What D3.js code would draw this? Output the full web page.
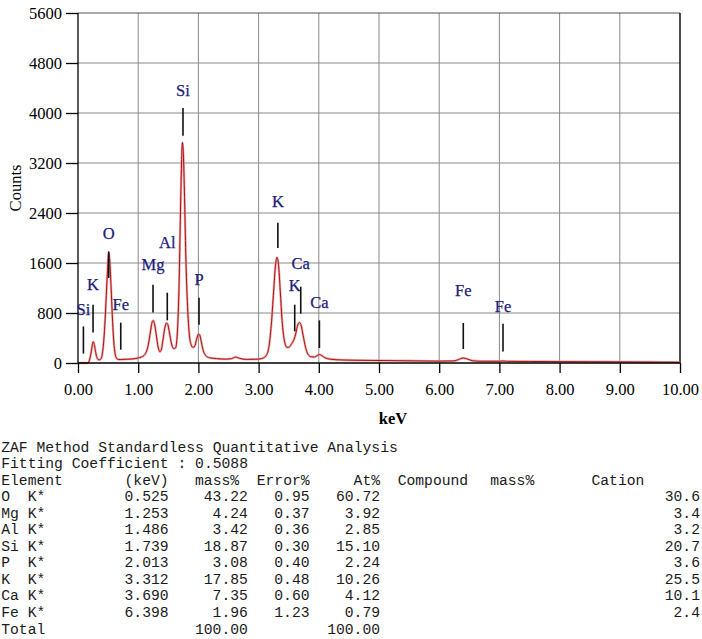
<!DOCTYPE html>
<html>
<head>
<meta charset="utf-8">
<script src="https://cdn.jsdelivr.net/npm/d3@7"></script>
<style>
  body { margin: 0; background: #fff; }
  svg { display: block; }
  .tick text { font-family: "Liberation Serif", "Times New Roman", serif; font-size: 16.5px; fill: #000; }
  .tbl { font-family: "Liberation Mono", "Courier New", monospace; font-size: 14.7px; fill: #1a1a1a; white-space: pre; }
</style>
</head>
<body>
<svg id="chart" width="702" height="639"></svg>
<script>
// spectrum: [keV, counts]
var spectrum = [
  [0.00, 0], [0.16, 0], [0.18, 20], [0.20, 80], [0.22, 180], [0.24, 300], [0.25, 340],
  [0.27, 300], [0.29, 190], [0.31, 100], [0.33, 60], [0.36, 50], [0.38, 65], [0.40, 120],
  [0.42, 270], [0.44, 520], [0.46, 880], [0.48, 1280], [0.50, 1650], [0.51, 1760],
  [0.53, 1600], [0.55, 1200], [0.57, 760], [0.59, 400], [0.61, 190], [0.63, 95],
  [0.66, 60], [0.70, 55], [0.80, 60], [0.90, 65], [1.00, 80], [1.05, 95], [1.10, 125],
  [1.14, 190], [1.17, 300], [1.20, 480], [1.23, 650], [1.25, 680], [1.27, 630],
  [1.30, 450], [1.33, 260], [1.36, 180], [1.38, 200], [1.41, 360], [1.44, 550],
  [1.47, 640], [1.49, 620], [1.52, 480], [1.55, 320], [1.59, 230], [1.62, 240],
  [1.65, 480], [1.68, 1300], [1.70, 2300], [1.72, 3200], [1.735, 3530], [1.75, 3350],
  [1.77, 2650], [1.79, 1750], [1.82, 900], [1.85, 450], [1.88, 290], [1.91, 250],
  [1.94, 270], [1.97, 380], [2.00, 460], [2.02, 450], [2.05, 330], [2.08, 200],
  [2.12, 120], [2.18, 85], [2.30, 70], [2.45, 62], [2.55, 70], [2.62, 95], [2.68, 75],
  [2.80, 58], [2.95, 60], [3.05, 70], [3.12, 110], [3.17, 250], [3.21, 600],
  [3.25, 1150], [3.28, 1560], [3.305, 1690], [3.33, 1580], [3.36, 1150], [3.39, 680],
  [3.43, 350], [3.47, 250], [3.51, 255], [3.55, 310], [3.59, 380], [3.62, 480],
  [3.65, 610], [3.68, 650], [3.71, 590], [3.74, 440], [3.78, 250], [3.82, 140],
  [3.87, 100], [3.93, 95], [3.97, 118], [4.01, 135], [4.05, 118], [4.10, 85],
  [4.20, 60], [4.40, 48], [4.60, 44], [5.00, 40], [5.50, 35], [6.00, 30], [6.25, 34],
  [6.32, 55], [6.40, 80], [6.48, 60], [6.56, 35], [6.70, 28], [7.00, 28], [7.06, 32],
  [7.12, 27], [7.50, 25], [8.00, 22], [8.50, 20], [9.00, 18], [9.50, 15], [10.00, 12]
];

// peak markers: element, keV, line top / bottom and label baseline in counts
var markerNames  = ["Si", "K", "O", "Fe", "Mg", "Al", "Si", "P", "K", "K", "Ca", "Ca", "Fe", "Fe"];
var markerKeV    = [0.09, 0.25, 0.51, 0.71, 1.246, 1.483, 1.744, 2.01, 3.32, 3.60, 3.70, 4.01, 6.40, 7.06];
var markerTop    = [585, 933, 1786, 645, 1253, 1125, 4080, 1045, 2245, 933, 1221, 682, 640, 629];
var markerBottom = [150, 490, 1360, 213, 810, 682, 3637, 613, 1840, 506, 789, 240, 224, 186];
var markerLabel  = [773, 1173, 1984, 853, 1482, 1840, 4266, 1253, 2496, 1147, 1504, 880, 1066, 816];

var xTicks = [0, 1, 2, 3, 4, 5, 6, 7, 8, 9, 10];
var yTicks = [0, 800, 1600, 2400, 3200, 4000, 4800, 5600];

// quantitative table
var tableTitle = "ZAF Method Standardless Quantitative Analysis";
var tableFit = "Fitting Coefficient : 0.5088";
var elements = ["O  K*", "Mg K*", "Al K*", "Si K*", "P  K*", "K  K*", "Ca K*", "Fe K*"];
var energies = ["0.525", "1.253", "1.486", "1.739", "2.013", "3.312", "3.690", "6.398"];
var massPct  = ["43.22", "4.24", "3.42", "18.87", "3.08", "17.85", "7.35", "1.96"];
var errorPct = ["0.95", "0.37", "0.36", "0.30", "0.40", "0.48", "0.60", "1.23"];
var atPct    = ["60.72", "3.92", "2.85", "15.10", "2.24", "10.26", "4.12", "0.79"];
var cation   = ["30.6", "3.4", "3.2", "20.7", "3.6", "25.5", "10.1", "2.4"];
var totals   = ["100.00", "100.00"];

var svg = d3.select("#chart");

var x = d3.scaleLinear().domain([0, 10]).range([78, 680]);
var y = d3.scaleLinear().domain([0, 5600]).range([363, 13]);

// grid
svg.append("g").selectAll("line").data(xTicks.slice(1, -1)).enter().append("line")
  .attr("x1", function(d) { return x(d); }).attr("x2", function(d) { return x(d); })
  .attr("y1", y(0)).attr("y2", y(5600))
  .attr("stroke", "#8a8a8a").attr("stroke-width", 1);
svg.append("g").selectAll("line").data(yTicks.slice(1)).enter().append("line")
  .attr("x1", x(0)).attr("x2", x(10))
  .attr("y1", function(d) { return y(d); }).attr("y2", function(d) { return y(d); })
  .attr("stroke", function(d) { return d === 5600 ? "#555" : "#8a8a8a"; })
  .attr("stroke-width", 1);
svg.append("line").attr("x1", x(10)).attr("x2", x(10)).attr("y1", y(0)).attr("y2", y(5600))
  .attr("stroke", "#111").attr("stroke-width", 1.5);

// spectrum
var line = d3.line()
  .x(function(d) { return x(d[0]); })
  .y(function(d) { return y(d[1]); })
  .curve(d3.curveMonotoneX);

svg.append("path").datum(spectrum).attr("d", line)
  .attr("fill", "none").attr("stroke", "#e89090").attr("stroke-width", 2.4).attr("opacity", 0.75);
svg.append("path").datum(spectrum).attr("d", line)
  .attr("fill", "none").attr("stroke", "#a81010").attr("stroke-width", 1);

// axes
var yAxis = d3.axisLeft(y).tickValues(yTicks).tickSize(12).tickPadding(4).tickFormat(d3.format("d"));
var gy = svg.append("g").attr("transform", "translate(" + x(0) + ",0)").call(yAxis);
var xAxis = d3.axisBottom(x).tickValues(xTicks).tickSize(10).tickPadding(10).tickFormat(d3.format(".2f"));
var gx = svg.append("g").attr("transform", "translate(0," + y(0) + ")").call(xAxis);
[gx, gy].forEach(function(g) {
  g.select(".domain").attr("stroke", "#000").attr("stroke-width", 1.3);
  g.selectAll(".tick line").attr("stroke", "#000").attr("stroke-width", 1.3);
});
gy.select(".domain").attr("d", "M0," + y(0) + "V" + y(5600));
gx.select(".domain").attr("d", "M" + x(0) + ",0H" + x(10));

svg.append("text").attr("transform", "translate(21,188) rotate(-90)")
  .attr("text-anchor", "middle")
  .style("font-family", "'Liberation Serif', serif").style("font-size", "16.5px")
  .text("Counts");
svg.append("text").attr("x", 393).attr("y", 424).attr("text-anchor", "middle")
  .style("font-family", "'Liberation Serif', serif").style("font-size", "16.5px")
  .style("font-weight", "bold").text("keV");

// element markers
var markers = svg.append("g").selectAll("g").data(markerNames).enter().append("g");
markers.append("line")
  .attr("x1", function(d, i) { return x(markerKeV[i]); })
  .attr("x2", function(d, i) { return x(markerKeV[i]); })
  .attr("y1", function(d, i) { return y(markerTop[i]); })
  .attr("y2", function(d, i) { return y(markerBottom[i]); })
  .attr("stroke", "#111").attr("stroke-width", 1.6);
markers.append("text")
  .attr("x", function(d, i) { return x(markerKeV[i]); })
  .attr("y", function(d, i) { return y(markerLabel[i]); })
  .attr("text-anchor", "middle")
  .style("font-family", "'Liberation Serif', serif").style("font-size", "16.5px")
  .style("fill", "#1b1b7a").style("stroke", "#1b1b7a").style("stroke-width", 0.25)
  .text(function(d) { return d; });

// table
var cw = 8.81, cx0 = 1.2, row0 = 451.5, rowH = 16.55;
function col(k) { return cx0 + k * cw; }
function rowY(r) { return row0 + r * rowH; }
var tbl = svg.append("g");
function put(str, k, r, anchor) {
  tbl.append("text").attr("class", "tbl").attr("x", k)
    .attr("y", rowY(r)).attr("text-anchor", anchor || "start").text(str);
}
put(tableTitle, col(0), 0);
put(tableFit, col(0), 1);
put("Element", col(0), 2); put("(keV)", col(14), 2); put("mass%", col(22), 2); put("Error%", col(29), 2);
put("At%", col(40), 2); put("Compound", col(45), 2); put("mass%", col(55.5), 2); put("Cation", col(67), 2);
elements.forEach(function(el, i) {
  var r = i + 3;
  put(el, col(0), r);
  put(energies[i], col(19), r, "end");
  put(massPct[i], col(28), r, "end");
  put(errorPct[i], col(35), r, "end");
  put(atPct[i], col(43), r, "end");
  put(cation[i], 700, r, "end");
});
put("Total", col(0), 11);
put(totals[0], col(28), 11, "end");
put(totals[1], col(43), 11, "end");
</script>
</body>
</html>
